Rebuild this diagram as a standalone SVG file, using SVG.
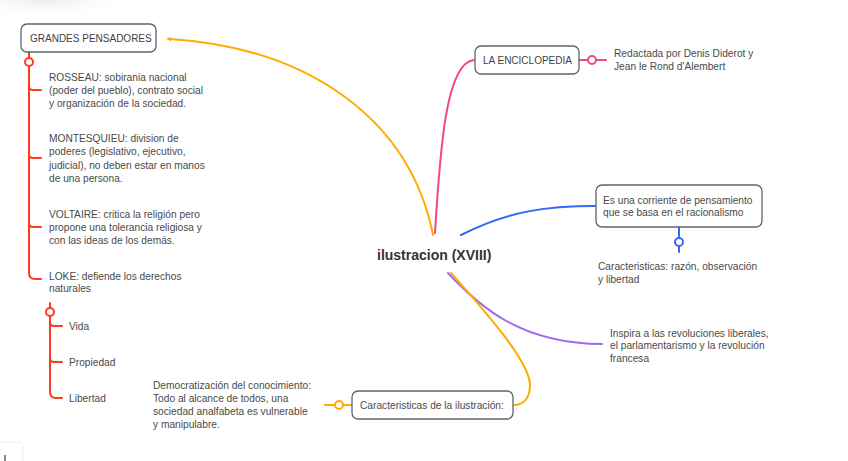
<svg xmlns="http://www.w3.org/2000/svg" width="848" height="461" viewBox="0 0 848 461">
<defs>
<style>
.t{font-family:"Liberation Sans",Arial,sans-serif;font-size:10.2px;fill:#4a4a4a}
.bt{font-family:"Liberation Sans",Arial,sans-serif;font-size:10px;fill:#3f3f3f}
.box{fill:#fff;stroke:#5f646b;stroke-width:1.3}
.red{fill:none;stroke:#fa3d1e;stroke-width:2;stroke-linecap:round}
.org{fill:none;stroke:#ffab00;stroke-width:2;stroke-linecap:round}
.pink{fill:none;stroke:#f2487f;stroke-width:2;stroke-linecap:round}
.blue{fill:none;stroke:#3467f5;stroke-width:2;stroke-linecap:round}
.pur{fill:none;stroke:#9c6cf0;stroke-width:2;stroke-linecap:round}
.ring{fill:#fff;stroke-width:2}
</style>
<marker id="arr" viewBox="0 0 10 10" refX="2" refY="5" markerWidth="5" markerHeight="5" orient="auto-start-reverse" markerUnits="userSpaceOnUse">
<path d="M0,0 L10,5 L0,10 z" fill="#ffb01f"/>
</marker>
<radialGradient id="sh" cx="0.5" cy="0.5" r="0.5">
<stop offset="0" stop-color="#e6e6e6" stop-opacity="0.8"/>
<stop offset="1" stop-color="#ffffff" stop-opacity="0"/>
</radialGradient>
</defs>
<rect width="848" height="461" fill="#fff"/>
<ellipse cx="45" cy="0" rx="90" ry="18" fill="url(#sh)"/>
<g id="ui-corner">
<rect x="-6" y="442" width="29" height="30" rx="5" fill="#fff" stroke="#ececec"/>
<line x1="5" y1="455" x2="5" y2="461" stroke="#333" stroke-width="1.2"/>
</g>

<g id="connectors">
<path class="org" d="M433,235 C410,120 310,48 170,39" stroke-width="1.3" marker-end="url(#arr)"/>
<path class="pink" d="M435,233 C440,150 446,62 474,60"/>
<path class="blue" d="M461,235 C510,210 550,206 595,206"/>
<path class="pur" d="M448,273 C478,305 520,344 602,344"/>
<path class="org" d="M451,273 C475,300 530,360 530,385 C530,400 522,405 514,405"/>
<!-- red tree -->
<line class="red" x1="29" y1="52" x2="29" y2="58"/>
<circle class="ring" cx="29" cy="62" r="4" stroke="#fa3d1e"/>
<path class="red" d="M29,66 L29,273 Q29,279 35,279 L41,279"/>
<path class="red" d="M29,86 Q29,90 33,90 L41,90"/>
<path class="red" d="M29,154 Q29,158 33,158 L41,158"/>
<path class="red" d="M29,223 Q29,227 33,227 L41,227"/>
<line class="red" x1="50" y1="303" x2="50" y2="308"/>
<circle class="ring" cx="50" cy="312" r="4" stroke="#fa3d1e"/>
<path class="red" d="M50,316 L50,392 Q50,398 56,398 L62,398"/>
<path class="red" d="M50,322 Q50,326 54,326 L62,326"/>
<path class="red" d="M50,358 Q50,362 54,362 L62,362"/>
<!-- pink -->
<line class="pink" x1="579" y1="60" x2="587.5" y2="60"/>
<circle class="ring" cx="592" cy="60" r="4" stroke="#f2487f"/>
<line class="pink" x1="596.5" y1="60" x2="606" y2="60"/>
<!-- blue -->
<line class="blue" x1="679" y1="227" x2="679" y2="237.5"/>
<circle class="ring" cx="679" cy="242" r="4" stroke="#3467f5"/>
<line class="blue" x1="679" y1="246.5" x2="679" y2="252"/>
<!-- orange bottom -->
<line class="org" x1="325" y1="405" x2="334.5" y2="405"/>
<circle class="ring" cx="339" cy="405" r="4" stroke="#ffab00"/>
<line class="org" x1="343.5" y1="405" x2="352" y2="405"/>
</g>

<g id="center">
<text x="377" y="260" font-family="Liberation Sans, Arial, sans-serif" font-size="14" font-weight="bold" fill="#333">ilustracion (XVIII)</text>
</g>

<g id="grandes-pensadores">
<rect class="box" x="21" y="24" width="135" height="28" rx="6"/>
<text class="bt" x="30" y="41.5">GRANDES PENSADORES</text>
</g>
<g id="rosseau">
<text class="t" x="49" y="81"><tspan x="49">ROSSEAU: sobirania nacional</tspan><tspan x="49" dy="12.8">(poder del pueblo), contrato social</tspan><tspan x="49" dy="12.8">y organización de la sociedad.</tspan></text>
</g>
<g id="montesquieu">
<text class="t" x="49" y="142"><tspan x="49">MONTESQUIEU: division de</tspan><tspan x="49" dy="13.3">poderes (legislativo, ejecutivo,</tspan><tspan x="49" dy="13.3">judicial), no deben estar en manos</tspan><tspan x="49" dy="13.3">de una persona.</tspan></text>
</g>
<g id="voltaire">
<text class="t" x="49" y="217.5"><tspan x="49">VOLTAIRE: critica la religión pero</tspan><tspan x="49" dy="13.3">propone una tolerancia religiosa y</tspan><tspan x="49" dy="13.3">con las ideas de los demás.</tspan></text>
</g>
<g id="loke">
<text class="t" x="49" y="279.5"><tspan x="49">LOKE: defiende los derechos</tspan><tspan x="49" dy="12.7">naturales</tspan></text>
</g>
<g id="vida"><text class="t" x="69" y="329.5">Vida</text></g>
<g id="propiedad"><text class="t" x="69" y="365.8">Propiedad</text></g>
<g id="libertad"><text class="t" x="69" y="401.5">Libertad</text></g>

<g id="enciclopedia">
<rect class="box" x="475" y="46" width="104" height="28" rx="6"/>
<text class="bt" x="483" y="63.5">LA ENCICLOPEDIA</text>
</g>
<g id="redactada">
<text class="t" x="614" y="56.8"><tspan x="614">Redactada por Denis Diderot y</tspan><tspan x="614" dy="13.3">Jean le Rond d'Alembert</tspan></text>
</g>

<g id="corriente">
<rect class="box" x="596" y="185" width="166" height="42" rx="6"/>
<text class="t" x="603" y="203.5"><tspan x="603">Es una corriente de pensamiento</tspan><tspan x="603" dy="12.4">que se basa en el racionalismo</tspan></text>
</g>
<g id="caracteristicas-razon">
<text class="t" x="598" y="270.2"><tspan x="598">Caracteristicas: razón, observación</tspan><tspan x="598" dy="12.6">y libertad</tspan></text>
</g>

<g id="inspira">
<text class="t" x="610" y="336.8"><tspan x="610">Inspira a las revoluciones liberales,</tspan><tspan x="610" dy="12.5">el parlamentarismo y la revolución</tspan><tspan x="610" dy="12.5">francesa</tspan></text>
</g>

<g id="caracteristicas-ilustracion">
<rect class="box" x="352" y="391" width="161" height="28" rx="6"/>
<text class="t" x="360" y="408.5">Caracteristicas de la ilustración:</text>
</g>
<g id="democratizacion">
<text class="t" x="153" y="388.8"><tspan x="153">Democratización del conocimiento:</tspan><tspan x="153" dy="13.2">Todo al alcance de todos, una</tspan><tspan x="153" dy="13.2">sociedad analfabeta es vulnerable</tspan><tspan x="153" dy="13.2">y manipulabre.</tspan></text>
</g>
</svg>
